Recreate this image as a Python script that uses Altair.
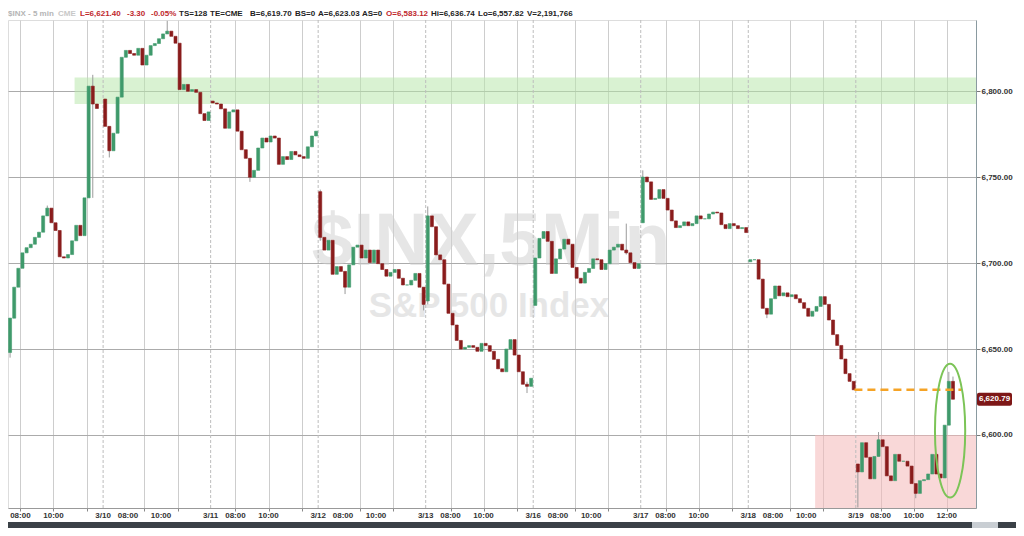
import altair as alt
import pandas as pd

# ---------------- data ----------------
DAYS = ["3/9", "3/10", "3/11", "3/12", "3/13", "3/16", "3/17", "3/18", "3/19"]
BARS_PER_DAY = 78          # 5-min bars per session
BARS_PER_CANDLE = 3        # drawn as 15-min candles
FIRST_CANDLE = [3, 0, 0, 0, 0, 0, 0, 0, 0]
DAY_OPEN = [6648.0, 6795.5, 6794.3, 6741.6, 6678.0, 6675.4, 6723.5, 6700.8, 6583.12]

CLOSE_0309 = [6668, 6686, 6697, 6706, 6709, 6711, 6715, 6718, 6727.5, 6732, 6723.5, 6719,
              6703.7, 6703, 6705, 6713, 6722, 6716, 6738, 6803, 6792.6, 6790]
CLOSE_0310 = [6779.6, 6765.4, 6775.6, 6796.6, 6819.8, 6823.8, 6822, 6821, 6825, 6815.3, 6821,
              6826.6, 6827.8, 6830.6, 6833.4, 6835, 6832, 6828, 6801, 6804, 6800, 6801, 6799.4,
              6787, 6783, 6788]
CLOSE_0311 = [6793.2, 6792.6, 6789.8, 6778.5, 6788, 6789.2, 6776.8, 6766, 6761, 6750, 6754,
              6767, 6772.8, 6770.5, 6774, 6772.8, 6757.5, 6762, 6760.3, 6765, 6763, 6762, 6761,
              6767.7, 6774, 6776.8]
CLOSE_0312 = [6715, 6707.6, 6713.3, 6693.5, 6698, 6695.2, 6686, 6699, 6709.3, 6710.5, 6703,
              6707.6, 6700.3, 6707.6, 6699.7, 6696.3, 6692.4, 6694.6, 6696.3, 6691.2, 6687.3,
              6687.3, 6690, 6694, 6686, 6676]
CLOSE_0313 = [6727.5, 6721.2, 6704.8, 6702, 6687.8, 6670.8, 6664, 6655, 6650, 6651, 6652, 6651,
              6648.7, 6653.3, 6652, 6648.7, 6644, 6638.5, 6636.8, 6650, 6655.5, 6646.5, 6636.8,
              6629.5, 6628.3, 6633]
CLOSE_0316 = [6703, 6714.4, 6718.4, 6712.7, 6694, 6702.5, 6708.2, 6713.9, 6711, 6697.5, 6691.2,
              6688.4, 6694.6, 6696.9, 6702.5, 6702, 6696.3, 6699.7, 6707.6, 6709.3, 6711, 6707.6,
              6706, 6700.3, 6696.9, 6699.7]
CLOSE_0317 = [6750.1, 6747.3, 6737.1, 6737.7, 6742.8, 6737.7, 6730.9, 6724.6, 6720.7, 6721.8,
              6724, 6721.8, 6723, 6727.5, 6725.8, 6725.8, 6728.6, 6729.7, 6729.2, 6722.4, 6720.1,
              6723, 6721.8, 6720.1, 6720.7, 6717.8]
CLOSE_0318 = [6702, 6702, 6690.7, 6673.7, 6670.3, 6679.3, 6686.7, 6681, 6682.7, 6680.5, 6681.6,
              6679.3, 6677, 6673.7, 6669.1, 6672, 6674.8, 6680.5, 6676, 6666.9, 6658.4, 6652.1,
              6644.2, 6635.7, 6631.2, 6626.3]
CLOSE_0319 = [6578.5, 6595.5, 6587, 6574.5, 6587.5, 6597.2, 6593.2, 6576.2, 6573.4, 6588.7,
              6584.7, 6584.7, 6581.9, 6571.7, 6566, 6573.4, 6574, 6577.3, 6588.7, 6577.3, 6575,
              6605.7, 6631.2, 6620.79]
CLOSES = [CLOSE_0309, CLOSE_0310, CLOSE_0311, CLOSE_0312, CLOSE_0313,
          CLOSE_0316, CLOSE_0317, CLOSE_0318, CLOSE_0319]

# visible wicks: (day, candle, high, low)
WICKS = [(0, 3, 6668, 6645), (0, 12, 6733.5, 6727.5), (0, 23, 6809.6, 6738),
         (1, 1, 6779.6, 6761.5), (1, 15, 6841, 6833.4), (2, 9, 6761, 6747.3),
         (3, 0, 6742.8, 6713), (3, 6, 6695.2, 6682), (3, 25, 6686, 6672.5),
         (4, 0, 6733, 6676), (4, 24, 6631, 6624.4), (5, 22, 6723, 6705),
         (6, 0, 6754, 6723.5), (7, 4, 6673.7, 6668), (8, 0, 6583.12, 6557.82),
         (8, 5, 6601.7, 6587.5), (8, 14, 6571.7, 6563.2), (8, 22, 6636.74, 6605.7),
         (8, 23, 6634, 6620.79)]

HOUR_BARS = [18, 30, 42, 54, 66]            # 08:00 ... 12:00 (bars after the open)
TIME_LABELS = [("08:00", 18), ("10:00", 42)]
LAST_DAY_LABELS = [("12:00", 66)]
PRICE_TICKS = [6600, 6650, 6700, 6750, 6800]
LAST_PRICE = 6620.79
PRIOR_CLOSE = 6626.3
GREEN_ZONE = [6792.6, 6808.0]
RED_ZONE_TOP = 6600.0
HEADER_TEXT = ["$INX - 5 min", "CME", "L=6,621.40", "-3.30", "-0.05%", "TS=128", "TE=CME",
               "B=6,619.70", "BS=0", "A=6,623.03", "AS=0", "O=6,583.12", "Hi=6,636.74",
               "Lo=6,557.82", "V=2,191,766"]
WATERMARK = ["$INX,5Min", "S&P 500 Index"]

# ---------------- layout ----------------
W, H = 968, 488
X_DOMAIN = [9.0, 711.2]
Y_DOMAIN = [6557.5, 6841.5]
GREEN_X = [57.3, 711.2]
RED_X = [594.5, 711.2]
DASH_X = [623.0, 700.5]
ELLIPSE_C = (692.4, 6602.5)
HEADER_X = [0, 50, 72, 119, 143, 171, 202, 242, 287, 310, 354, 378, 423, 470, 519]
HEADER_COLOR = ["#b5b5b5", "#c8c8c8", "#c0282d", "#c0282d", "#c0282d", "#222", "#222",
                "#222", "#222", "#222", "#222", "#c0282d", "#222", "#222", "#222"]
FONT = "Liberation Sans"
GREEN, RED = "#3f9a6b", "#8a1c1c"

xs = alt.Scale(domain=X_DOMAIN, nice=False, zero=False)
ys = alt.Scale(domain=Y_DOMAIN, nice=False, zero=False)

rows = []
for d, closes in enumerate(CLOSES):
    prev = DAY_OPEN[d]
    for i, c in enumerate(closes):
        base = BARS_PER_DAY * d + BARS_PER_CANDLE * (FIRST_CANDLE[d] + i)
        rows.append({"x": base + 0.4, "x2": base + 2.6, "o": prev, "c": c,
                     "dir": "up" if c >= prev else "down"})
        prev = c
candles = pd.DataFrame(rows)
up_df = candles[candles["dir"] == "up"]
dn_df = candles[candles["dir"] == "down"]

wicks = pd.DataFrame([{"x": BARS_PER_DAY * d + BARS_PER_CANDLE * k + 1.5, "hi": hi, "lo": lo}
                      for d, k, hi, lo in WICKS])

hour_pos = [BARS_PER_DAY * d + h for d in range(len(DAYS)) for h in HOUR_BARS
            if X_DOMAIN[0] <= BARS_PER_DAY * d + h <= X_DOMAIN[1]]
sep_pos = pd.DataFrame({"x": [BARS_PER_DAY * d for d in range(1, len(DAYS))]})

lab = []
for d, day in enumerate(DAYS):
    items = [(day, 0)] + TIME_LABELS + (LAST_DAY_LABELS if d == len(DAYS) - 1 else [])
    for t, off in items:
        p = BARS_PER_DAY * d + off
        if X_DOMAIN[0] <= p <= X_DOMAIN[1]:
            lab.append({"x": p, "t": t})
labels = pd.DataFrame(lab)

green_zone = pd.DataFrame({"x": [GREEN_X[0]], "x2": [GREEN_X[1]],
                           "y": [GREEN_ZONE[0]], "y2": [GREEN_ZONE[1]]})
red_zone = pd.DataFrame({"x": [RED_X[0]], "x2": [RED_X[1]],
                         "y": [Y_DOMAIN[0]], "y2": [RED_ZONE_TOP]})

zone_g = alt.Chart(green_zone).mark_rect(color="#b9e8ad", opacity=0.55).encode(
    x=alt.X("x:Q", scale=xs, title=None,
            axis=alt.Axis(values=hour_pos, labels=False, ticks=True, tickSize=3,
                          tickColor="#888", grid=True, gridColor="#cdcdcd",
                          gridWidth=1, domainColor="#999", orient="bottom")),
    x2="x2:Q",
    y=alt.Y("y:Q", scale=ys, title=None,
            axis=alt.Axis(values=PRICE_TICKS, format=",.2f", orient="right", grid=True,
                          gridColor="#ababab", gridWidth=1, tickSize=4, tickColor="#777",
                          domainColor="#8a9aa0", labelFont=FONT, labelFontSize=8,
                          labelFontWeight="bold", labelColor="#333", labelPadding=1)),
    y2="y2:Q",
)
zone_r = alt.Chart(red_zone).mark_rect(color="#f4b8b8", opacity=0.55).encode(
    x=alt.X("x:Q", scale=xs, title=None), x2="x2:Q",
    y=alt.Y("y:Q", scale=ys, title=None), y2="y2:Q")

wm1 = alt.Chart(pd.DataFrame({"t": [WATERMARK[0]]})).mark_text(
    font=FONT, fontSize=75, fontWeight="bold", color="#cfcfcf", opacity=0.5,
    align="center", baseline="alphabetic").encode(
    x=alt.value(483), y=alt.value(245), text="t:N")
wm2 = alt.Chart(pd.DataFrame({"t": [WATERMARK[1]]})).mark_text(
    font=FONT, fontSize=35, fontWeight="bold", color="#cfcfcf", opacity=0.5,
    align="center", baseline="alphabetic").encode(
    x=alt.value(481), y=alt.value(297), text="t:N")

seps = alt.Chart(sep_pos).mark_rule(color="#bdbdbd", strokeDash=[3, 2], strokeWidth=1).encode(
    x=alt.X("x:Q", scale=xs, title=None))

wick_layer = alt.Chart(wicks).mark_rule(color="#9a9a9a", strokeWidth=1).encode(
    x=alt.X("x:Q", scale=xs, title=None),
    y=alt.Y("hi:Q", scale=ys, title=None), y2="lo:Q")


def bodies(df, col):
    return alt.Chart(df).mark_rect(color=col, stroke=col, strokeWidth=0.6, opacity=1).encode(
        x=alt.X("x:Q", scale=xs, title=None), x2="x2:Q",
        y=alt.Y("o:Q", scale=ys, title=None), y2="c:Q")


body_up = bodies(up_df, GREEN)
body_dn = bodies(dn_df, RED)

dash = alt.Chart(pd.DataFrame({"a": [DASH_X[0]], "b": [DASH_X[1]], "p": [PRIOR_CLOSE]})).mark_rule(
    color="#f5a326", strokeWidth=2.5, strokeDash=[8, 5]).encode(
    x=alt.X("a:Q", scale=xs, title=None), x2="b:Q", y=alt.Y("p:Q", scale=ys, title=None))

ellipse = alt.Chart(pd.DataFrame({"x": [ELLIPSE_C[0]], "y": [ELLIPSE_C[1]]})).mark_point(
    shape="M -0.226 0 A 0.226 1 0 1 0 0.226 0 A 0.226 1 0 1 0 -0.226 0 Z",
    filled=False, stroke="#7cc457", strokeWidth=2, size=17900, opacity=1).encode(
    x=alt.X("x:Q", scale=xs, title=None), y=alt.Y("y:Q", scale=ys, title=None))

tag_df = pd.DataFrame({"p": [LAST_PRICE], "t": [f"{LAST_PRICE:,.2f}"]})
tag = alt.Chart(tag_df).mark_rect(color="#7d1717", cornerRadius=2, yOffset=-6.5,
                                  y2Offset=6.5).encode(
    x=alt.value(W + 1), x2=alt.value(W + 36),
    y=alt.Y("p:Q", scale=ys, title=None), y2="p:Q")
tag_text = alt.Chart(tag_df).mark_text(color="white", font=FONT, fontSize=8, fontWeight="bold",
                                       align="center", baseline="middle").encode(
    x=alt.value(W + 18.5), y=alt.Y("p:Q", scale=ys, title=None), text="t:N")

xlabels = alt.Chart(labels).mark_text(font=FONT, fontSize=8, fontWeight="bold", color="#333",
                                      baseline="middle", align="center").encode(
    x=alt.X("x:Q", scale=xs, title=None), y=alt.value(H + 8), text="t:N")

bar = alt.Chart(pd.DataFrame({"a": [0]})).mark_rect(color="#3b4147").encode(
    x=alt.value(0), x2=alt.value(W + 40), y=alt.value(H + 14), y2=alt.value(H + 21))
bar2 = alt.Chart(pd.DataFrame({"a": [0]})).mark_rect(color="#c9ced3").encode(
    x=alt.value(W - 4), x2=alt.value(W + 22), y=alt.value(H + 14), y2=alt.value(H + 21))

header = []
for t, px, col in zip(HEADER_TEXT, HEADER_X, HEADER_COLOR):
    header.append(alt.Chart(pd.DataFrame({"t": [t]})).mark_text(
        font=FONT, fontSize=8, fontWeight="bold", color=col, align="left",
        baseline="middle").encode(x=alt.value(px), y=alt.value(-6), text="t:N"))

chart = alt.layer(zone_g, zone_r, wm1, wm2, seps, wick_layer, body_up, body_dn, dash, ellipse,
                  tag, tag_text, xlabels, bar, bar2, *header).properties(
    width=W, height=H,
    autosize=alt.AutoSizeParams(type="none"),
    padding={"left": 0, "top": 12, "right": 40, "bottom": 20},
).configure_view(strokeWidth=0).configure(background="white")

chart.save("out.html", embed_options={"renderer": "svg", "actions": False})
